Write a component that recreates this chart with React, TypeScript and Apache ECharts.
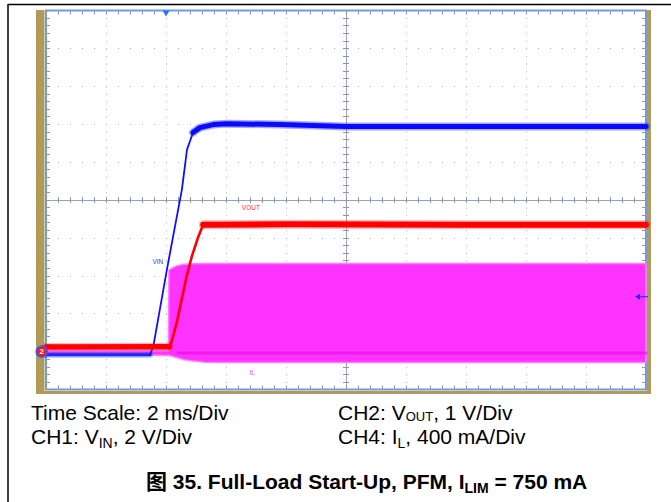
import React, { useEffect, useRef } from 'react';
import * as echarts from 'echarts';

// Time axis: 2 ms/div, 10 divisions
const TIME_MIN = 0;
const TIME_MAX = 20;
const TIME_DIV = 2;
// Vertical: 10 divisions on screen
const DIV_MIN = 0;
const DIV_MAX = 10;
// Channel scales (per division) and ground level (in divisions from bottom)
const CH1_SCALE = 2; // V/div
const CH2_SCALE = 1; // V/div
const CH4_SCALE = 400; // mA/div
const GND_DIV = 1;

// CH1: VIN (ms, V)
const VIN_T = [0, 3.47, 3.58, 4.03, 4.53, 4.7, 4.9, 5.13, 5.57, 6.03, 7.8, 10, 14, 20];
const VIN_V = [-0.16, -0.16, 0.3, 4.33, 8.55, 10.66, 11.56, 11.82, 11.98, 12.03, 11.98, 11.88, 11.88, 11.88];

// CH2: VOUT (ms, V)
const VOUT_T = [0, 4.11, 4.19, 4.36, 4.52, 4.69, 4.86, 5.08, 5.24, 8, 14, 20];
const VOUT_V = [0.12, 0.13, 0.27, 0.77, 1.37, 1.99, 2.51, 3.04, 3.35, 3.36, 3.35, 3.35];

// CH4: IL envelope (ms, mA)
const IL_T = [0, 3.4, 4.08, 4.1, 4.2, 4.35, 4.6, 4.9, 5.3, 5.8, 20];
const IL_MIN = [-35, -35, -40, -42, -50, -62, -85, -100, -112, -116, -116];
const IL_MAX = [10, 10, 10, 860, 880, 905, 922, 928, 929, 929, 929];
const IL_STRIPE = -14; // darker centre stripe of the switching envelope

const FONT = "'Liberation Sans', Arial, 'Noto Sans CJK SC', sans-serif";
const TICK = '#8d95b0';
const DOT = '#aab0c6';

function seg(ts: number[], vs: number[], scale: number, t0: number, t1: number) {
  const out: number[][] = [];
  for (let i = 0; i < ts.length; i++) {
    if (ts[i] >= t0 - 1e-9 && ts[i] <= t1 + 1e-9) out.push([ts[i], GND_DIV + vs[i] / scale]);
  }
  return out;
}

function line(name: string, data: number[][], color: string, width: number, extra: any = {}) {
  return {
    type: 'line',
    name,
    data,
    symbol: 'none',
    showSymbol: false,
    silent: true,
    lineStyle: { color, width, cap: 'round', join: 'round' },
    ...extra,
  };
}

function buildOption() {
  const xBase = { type: 'value', min: TIME_MIN, max: TIME_MAX, interval: TIME_DIV, axisLabel: { show: false } };
  const yBase = { type: 'value', min: DIV_MIN, max: DIV_MAX, interval: 1, axisLabel: { show: false } };
  const tick = (inside: boolean, len: number) => ({
    axisTick: { show: true, inside, length: len, lineStyle: { color: TICK, width: 1 } },
    minorTick: { show: true, splitNumber: 5, length: len, lineStyle: { color: TICK, width: 1 } },
  });

  const xAxis = [
    {
      ...xBase, position: 'bottom', axisLine: { show: false, onZero: false }, ...tick(true, 4),
      splitLine: { show: true, lineStyle: { color: DOT, width: 1, type: [1, 6.58] } },
    },
    { ...xBase, position: 'top', axisLine: { show: false, onZero: false }, ...tick(true, 4), splitLine: { show: false } },
    {
      ...xBase, position: 'top', offset: -189.5,
      axisLine: { show: true, onZero: false, lineStyle: { color: '#9aa2bc', width: 1 } }, ...tick(true, 3), splitLine: { show: false },
    },
    { ...xBase, position: 'top', offset: -189.5, axisLine: { show: false, onZero: false }, ...tick(false, 3), splitLine: { show: false } },
  ];
  const yAxis = [
    {
      ...yBase, position: 'left', axisLine: { show: false, onZero: false }, ...tick(true, 4),
      splitLine: { show: true, lineStyle: { color: DOT, width: 1, type: [1, 11] } },
    },
    { ...yBase, position: 'right', axisLine: { show: false, onZero: false }, ...tick(true, 4), splitLine: { show: false } },
    {
      ...yBase, position: 'left', offset: -300,
      axisLine: { show: true, onZero: false, lineStyle: { color: '#9aa2bc', width: 1 } }, ...tick(true, 3), splitLine: { show: false },
    },
    { ...yBase, position: 'left', offset: -300, axisLine: { show: false, onZero: false }, ...tick(false, 3), splitLine: { show: false } },
  ];

  const ilUpper = IL_T.map((t, i) => [t, GND_DIV + IL_MAX[i] / CH4_SCALE]);
  const ilLower = IL_T.map((t, i) => [t, GND_DIV + IL_MIN[i] / CH4_SCALE]);
  const ilStripe = [[4.4, GND_DIV + IL_STRIPE / CH4_SCALE], [TIME_MAX, GND_DIV + IL_STRIPE / CH4_SCALE]];

  const smallLabel = (text: string, color: string) => ({
    show: true, position: 'inside', formatter: text, color, fontSize: 6.5, fontFamily: FONT,
  });

  const series: any[] = [
    {
      type: 'custom',
      name: 'IL',
      silent: true,
      z: 2,
      data: [[TIME_MIN, GND_DIV]],
      renderItem: (_params: any, api: any) => {
        const pts = ilUpper.map((p) => api.coord(p)).concat(ilLower.slice().reverse().map((p) => api.coord(p)));
        return {
          type: 'polygon',
          shape: { points: pts },
          style: { fill: '#ff33ff', stroke: '#ff80ff', lineWidth: 1.5 },
        };
      },
      markPoint: {
        silent: true,
        data: [{ coord: [6.87, 0.45], symbol: 'rect', symbolSize: 1, itemStyle: { color: 'transparent' }, label: smallLabel('IL', '#ff44ff') }],
      },
    },
    line('IL stripe', ilStripe, 'rgba(230,0,230,0.55)', 3, { z: 2 }),

    line('VIN base halo', seg(VIN_T, VIN_V, CH1_SCALE, 0, 3.47), 'rgba(40,60,255,0.35)', 6, { z: 3 }),
    line('VIN base', seg(VIN_T, VIN_V, CH1_SCALE, 0, 3.47), '#1a2cf0', 3, { z: 3 }),
    line('VIN ramp', seg(VIN_T, VIN_V, CH1_SCALE, 3.47, 5.13), '#1010ff', 1.8, {
      z: 3,
      markPoint: {
        silent: true,
        data: [
          { coord: [3.73, 3.38], symbol: 'rect', symbolSize: 1, itemStyle: { color: 'transparent' }, label: smallLabel('VIN', '#3838d8') },
          { coord: [4, 10], symbol: 'triangle', symbolRotate: 180, symbolSize: [7, 6], symbolOffset: [0, 3], itemStyle: { color: '#2a6fff' }, label: { show: false } },
          {
            coord: [20, 2.45], symbol: 'path://M0 3 L5 0 L5 2.5 L13 2.5 L13 3.5 L5 3.5 L5 6 Z', symbolSize: [13, 6],
            symbolOffset: [-4.5, 0], itemStyle: { color: '#1a2aff' }, label: { show: false },
          },
        ],
      },
    }),
    line('VIN halo', seg(VIN_T, VIN_V, CH1_SCALE, 4.9, 20), 'rgba(30,40,255,0.4)', 8, { z: 3 }),
    line('VIN', seg(VIN_T, VIN_V, CH1_SCALE, 4.9, 20), '#0a0aff', 5, { z: 3 }),

    line('VOUT base halo', seg(VOUT_T, VOUT_V, CH2_SCALE, 0, 4.11), 'rgba(255,30,30,0.3)', 8, { z: 4 }),
    line('VOUT base', seg(VOUT_T, VOUT_V, CH2_SCALE, 0, 4.11), '#ff0000', 5.5, {
      z: 4,
      markPoint: {
        silent: true,
        data: [{
          coord: [0, GND_DIV], symbol: 'circle', symbolSize: 11, symbolOffset: [-4.3, 0],
          itemStyle: { color: '#ff1515', borderColor: '#2f5fff', borderWidth: 1.5 },
          label: { show: true, position: 'inside', formatter: '2', color: '#ffffff', fontSize: 8, fontWeight: 'bold', fontFamily: FONT },
        }],
      },
    }),
    line('VOUT ramp', seg(VOUT_T, VOUT_V, CH2_SCALE, 4.11, 5.24), '#ff0000', 2.6, { z: 4 }),
    line('VOUT halo', seg(VOUT_T, VOUT_V, CH2_SCALE, 5.24, 20), 'rgba(255,30,30,0.3)', 9, { z: 4 }),
    line('VOUT', seg(VOUT_T, VOUT_V, CH2_SCALE, 5.24, 20), '#ff0000', 6, {
      z: 4,
      markPoint: {
        silent: true,
        data: [{ coord: [6.83, 4.8], symbol: 'rect', symbolSize: 1, itemStyle: { color: 'transparent' }, label: smallLabel('VOUT', '#ff3030') }],
      },
    }),
  ];

  // h: line-box height; larger h lowers the subscript further
  const txt = (x: number, c: number, text: string, h: number, subSize: number, bold = false) => {
    const w = bold ? 'bold' : 'normal';
    return {
      type: 'text', x, y: c + h / 2 - 10.5, silent: true,
      style: {
        text, fill: '#000', fontSize: 21, fontFamily: FONT, fontWeight: w,
        lineHeight: h, verticalAlign: 'middle', align: 'left',
        rich: {
          m: { fontSize: 21, fontFamily: FONT, fontWeight: w, fill: '#000', lineHeight: h, verticalAlign: 'top' },
          s: { fontSize: subSize, fontFamily: FONT, fontWeight: w, fill: '#000', lineHeight: h, verticalAlign: 'bottom' },
        },
      },
    };
  };

  const ROW1 = 412.2;
  const ROW2 = 436.2;
  const tan = '#b09a58';
  const graphic = [
    { type: 'line', silent: true, shape: { x1: 8, y1: 4.5, x2: 671, y2: 4.5 }, style: { stroke: '#000', lineWidth: 1.5 } },
    { type: 'line', silent: true, shape: { x1: 8, y1: 4, x2: 8, y2: 502 }, style: { stroke: '#000', lineWidth: 1.5 } },
    { type: 'rect', silent: true, shape: { x: 36, y: 10, width: 8.5, height: 384 }, style: { fill: tan } },
    { type: 'rect', silent: true, shape: { x: 36, y: 391, width: 615, height: 3 }, style: { fill: tan } },
    { type: 'rect', silent: true, shape: { x: 647, y: 10, width: 4, height: 384 }, style: { fill: tan } },
    txt(31, ROW1, '{m|Time Scale: 2 ms/Div}', 21, 14),
    txt(31, ROW2, '{m|CH1: V}{s|IN}{m|, 2 V/Div}', 24, 14),
    txt(338, ROW1, '{m|CH2: V}{s|OUT}{m|, 1 V/Div}', 21, 13),
    txt(338, ROW2, '{m|CH4: I}{s|L}{m|, 400 mA/Div}', 24, 14),
    txt(146, 481.7, '{m|图 35. Full-Load Start-Up, PFM, I}{s|LIM}{m| = 750 mA}', 24, 14, true),
  ];

  return {
    animation: false,
    backgroundColor: '#ffffff',
    grid: {
      left: 46, top: 10.5, width: 600, height: 379,
      show: true, borderColor: '#6b9be6', borderWidth: 2, backgroundColor: '#ffffff',
    },
    xAxis,
    yAxis,
    series,
    graphic,
  };
}

export default function App() {
  const ref = useRef<HTMLDivElement>(null);
  useEffect(() => {
    if (!ref.current) return;
    const chart = echarts.init(ref.current, undefined, { renderer: 'svg' });
    chart.setOption(buildOption() as any);
    return () => chart.dispose();
  }, []);
  return <div ref={ref} style={{ position: 'absolute', left: 0, top: 0, width: 671, height: 502 }} />;
}
